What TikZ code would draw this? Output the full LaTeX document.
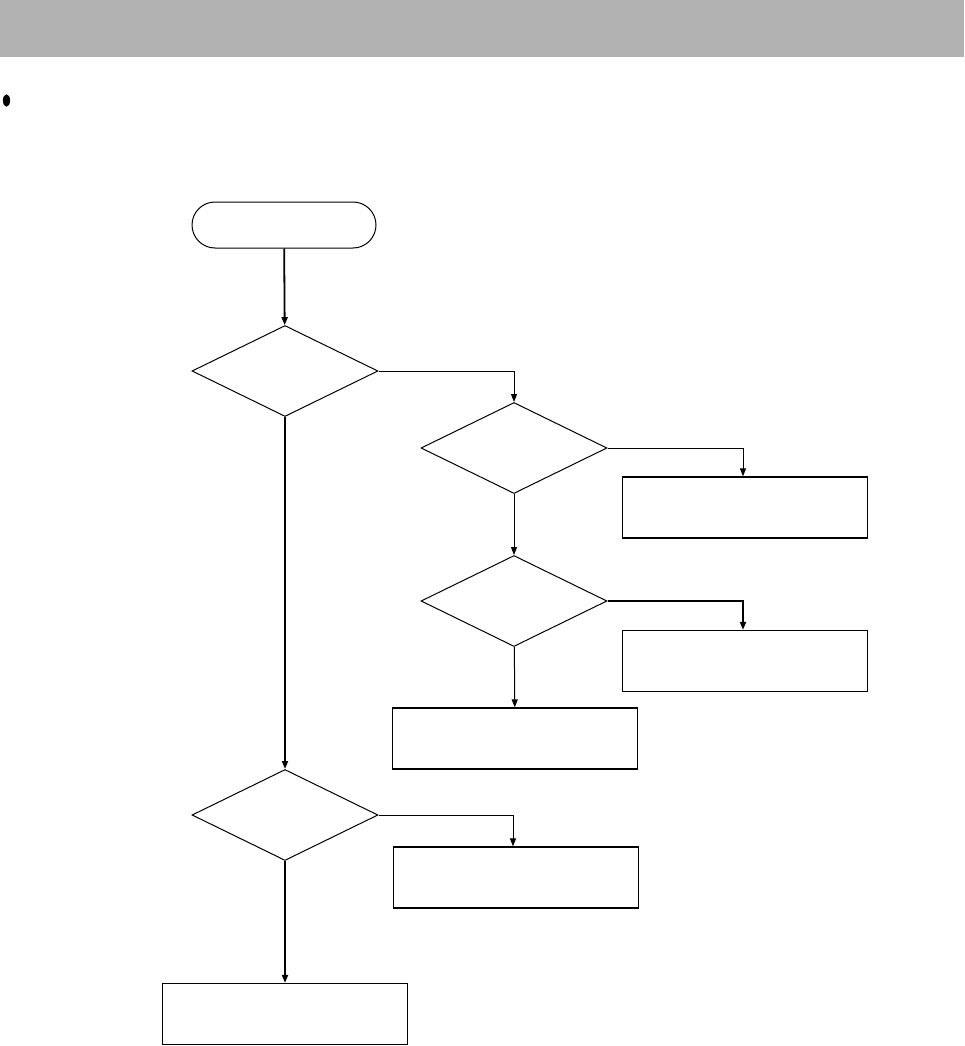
\documentclass[tikz,border=0pt]{standalone}
\usepackage{tikz}
\usetikzlibrary{positioning,arrows.meta,shapes.geometric}

\begin{document}
\begin{tikzpicture}[
    x=1pt, y=-1pt,
    term/.style={draw, line width=1pt, rounded corners=23pt, minimum width=184pt, minimum height=46pt, inner sep=0pt},
    dec/.style={draw, line width=1pt, diamond, minimum width=186pt, minimum height=91pt, inner sep=0pt},
    box/.style={draw, line width=1.2pt, minimum width=245pt, minimum height=61pt, inner sep=0pt},
    arr/.style={-{Triangle[length=8pt, width=6pt]}, line width=1pt},
    arrthick/.style={-{Triangle[length=8pt, width=6pt]}, line width=1.8pt}
]
\useasboundingbox (0,0) rectangle (964,1046);
% header band and bullet
\fill[black!30] (0,0) rectangle (964,57);
\fill (6.5,100.5) ellipse [x radius=3.6, y radius=6.2];

\node[term] (start) at (284,225) {};
\node[dec] (d1) at (285,371) {};
\node[dec] (d2) at (514,448) {};
\node[dec] (d3) at (514,601) {};
\node[dec] (d4) at (285,815) {};

\node[box] (b1) at (745,507.5) {};
\node[box] (b2) at (745,661) {};
\node[box] (b3) at (515,738.5) {};
\node[box] (b4) at (516,877.5) {};
\node[box] (b5) at (285,1014) {};

\draw[arrthick] (start) -- (d1);
\draw[arr] (d1.east) -| (d2.north);
\draw[arr] (d2.east) -| (b1.north -| 743,0);
\draw[arr] (d2) -- (d3);
\draw[arrthick] (d3.east) -| (b2.north -| 743,0);
\draw[arr] (d3) -- (b3);
\draw[arrthick] (d1) -- (d4);
\draw[arr] (d4.east) -| (b4.north -| 513,0);
\draw[arrthick] (d4) -- (b5);
\end{tikzpicture}
\end{document}
